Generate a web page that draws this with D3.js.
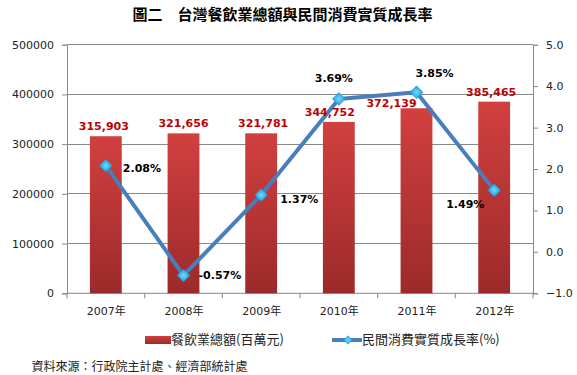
<!DOCTYPE html>
<html><head><meta charset="utf-8">
<script src="https://cdn.jsdelivr.net/npm/d3@7"></script>
<style>body{margin:0;background:#fff}svg{display:block}</style>
</head><body>
<script>
const categories = ["2007年","2008年","2009年","2010年","2011年","2012年"];
const barValues = [315903, 321656, 321781, 344752, 372139, 385465];
const growthValues = [2.08, -0.57, 1.37, 3.69, 3.85, 1.49];
const leftTicks = [0, 100000, 200000, 300000, 400000, 500000];
const rightTicks = [-1, 0, 1, 2, 3, 4, 5];
const titleText = "圖二　台灣餐飲業總額與民間消費實質成長率";
const barName = "餐飲業總額(百萬元)";
const lineName = "民間消費實質成長率(%)";
const sourceText = "資料來源：行政院主計處、經濟部統計處";

const W = 577, H = 375;
const L = 67, R = 533, T = 44.7, B = 293.3;
const font = "'DejaVu Sans', Verdana, sans-serif";
const cjk = "'Noto Sans CJK TC', 'Noto Sans CJK SC', sans-serif";

const svg = d3.select("body").append("svg").attr("width", W).attr("height", H);
const defs = svg.append("defs");
const bg = defs.append("linearGradient").attr("id","barGrad").attr("x1",0).attr("y1",0).attr("x2",0).attr("y2",1);
bg.append("stop").attr("offset","0%").attr("stop-color","#d1403f");
bg.append("stop").attr("offset","100%").attr("stop-color","#9c2a2a");
const mg = defs.append("radialGradient").attr("id","mkGrad");
mg.append("stop").attr("offset","0%").attr("stop-color","#6fdcff");
mg.append("stop").attr("offset","100%").attr("stop-color","#1d9ad6");

const x = d3.scaleBand().domain(categories).range([L, R]).paddingInner(0.59).paddingOuter(0.295);
const xc = d3.scalePoint().domain(categories).range([L, R]).padding(0.5);
const yL = d3.scaleLinear().domain([0, 500000]).range([B, T]);
const yR = d3.scaleLinear().domain([-1, 5]).range([B, T]);

// title
svg.append("text").attr("x", 282.5).attr("y", 20).attr("text-anchor","middle")
  .attr("font-family", cjk).attr("font-weight","bold").attr("font-size", 15).text(titleText);

// gridlines
svg.append("g").selectAll("line").data(leftTicks.filter(d=>d>0)).join("line")
  .attr("x1", L).attr("x2", R).attr("y1", d=>yL(d)).attr("y2", d=>yL(d))
  .attr("stroke","#888").attr("stroke-width",1).attr("shape-rendering","crispEdges");

// left axis
const gl = svg.append("g").attr("transform",`translate(${L},0)`)
  .call(d3.axisLeft(yL).tickValues(leftTicks).tickSize(5).tickPadding(8).tickFormat(d3.format("d")));
// right axis
const gr = svg.append("g").attr("transform",`translate(${R},0)`)
  .call(d3.axisRight(yR).tickValues(rightTicks).tickSize(5).tickPadding(8).tickFormat(d3.format(".1f")));
// bottom axis
const boundaries = d3.range(categories.length+1).map(i => L + i*(R-L)/categories.length);
const gb = svg.append("g").attr("transform",`translate(0,${B})`)
  .call(d3.axisBottom(xc).tickSize(0).tickPadding(14));
gb.selectAll("line.bnd").data(boundaries).join("line").attr("class","bnd")
  .attr("x1",d=>d).attr("x2",d=>d).attr("y1",0).attr("y2",5).attr("stroke","#888");
[gl, gr, gb].forEach(g => {
  g.select(".domain").attr("stroke","#888");
  g.selectAll(".tick line").attr("stroke","#888");
  g.selectAll("text").attr("font-family", font).attr("font-size", 11).attr("fill","#222");
});
gb.selectAll("text").attr("font-family", "'DejaVu Sans', 'Noto Sans CJK TC', sans-serif");
gb.select(".domain").attr("d", `M${L},0H${R}`);

// bars
svg.append("g").selectAll("rect").data(barValues).join("rect")
  .attr("x", (d,i)=>x(categories[i])).attr("width", x.bandwidth())
  .attr("y", d=>yL(d)).attr("height", d=>B - yL(d)).attr("fill","url(#barGrad)");

// line
const line = d3.line().x((d,i)=>xc(categories[i])).y(d=>yR(d));
svg.append("path").datum(growthValues).attr("d", line).attr("fill","none")
  .attr("stroke","#4a7ebb").attr("stroke-width",4).attr("stroke-linejoin","round");
svg.append("g").selectAll("path").data(growthValues).join("path")
  .attr("transform",(d,i)=>`translate(${xc(categories[i])},${yR(d)})`)
  .attr("d","M0,-6.5L6.5,0L0,6.5L-6.5,0Z").attr("fill","url(#mkGrad)").attr("stroke","#1a8cc8").attr("stroke-width",0.5);

// bar labels
const barOffs = [[-2,-6],[0,-6],[2,-6],[-9,-6],[-25,-1],[-3,-6]];
svg.append("g").selectAll("text").data(barValues).join("text")
  .attr("x",(d,i)=>xc(categories[i])+barOffs[i][0]).attr("y", (d,i)=>yL(d)+barOffs[i][1]).attr("text-anchor","middle")
  .attr("font-family", font).attr("font-weight","bold").attr("font-size", 11).attr("fill","#c00000")
  .text(d=>d3.format(",")(d));

// line labels
const offs = [[17,6,"start"],[15,4,"start"],[19,8,"start"],[-5,-17,"middle"],[18,-15,"middle"],[-48,18,"start"]];
svg.append("g").selectAll("text").data(growthValues).join("text")
  .attr("x",(d,i)=>xc(categories[i])+offs[i][0]).attr("y",(d,i)=>yR(d)+offs[i][1])
  .attr("text-anchor",(d,i)=>offs[i][2])
  .attr("font-family", font).attr("font-weight","bold").attr("font-size", 11).attr("fill","#000")
  .text(d=>d.toFixed(2)+"%");

// legend
const lg = svg.append("g");
lg.append("rect").attr("x",145).attr("y",336).attr("width",26).attr("height",8).attr("fill","url(#barGrad)");
lg.append("text").attr("x",171).attr("y",343.5).attr("font-family",cjk).attr("font-size",13).attr("fill","#222").text(barName);
lg.append("line").attr("x1",332).attr("x2",362).attr("y1",340).attr("y2",340).attr("stroke","#4a7ebb").attr("stroke-width",4);
lg.append("path").attr("transform","translate(348,340)").attr("d","M0,-4.5L4.5,0L0,4.5L-4.5,0Z").attr("fill","url(#mkGrad)");
lg.append("text").attr("x",362).attr("y",343.5).attr("font-family",cjk).attr("font-size",13).attr("fill","#222").text(lineName);

svg.append("text").attr("x",31.5).attr("y",371).attr("font-family",cjk).attr("font-size",12).attr("fill","#222").text(sourceText);
</script>
</body></html>
